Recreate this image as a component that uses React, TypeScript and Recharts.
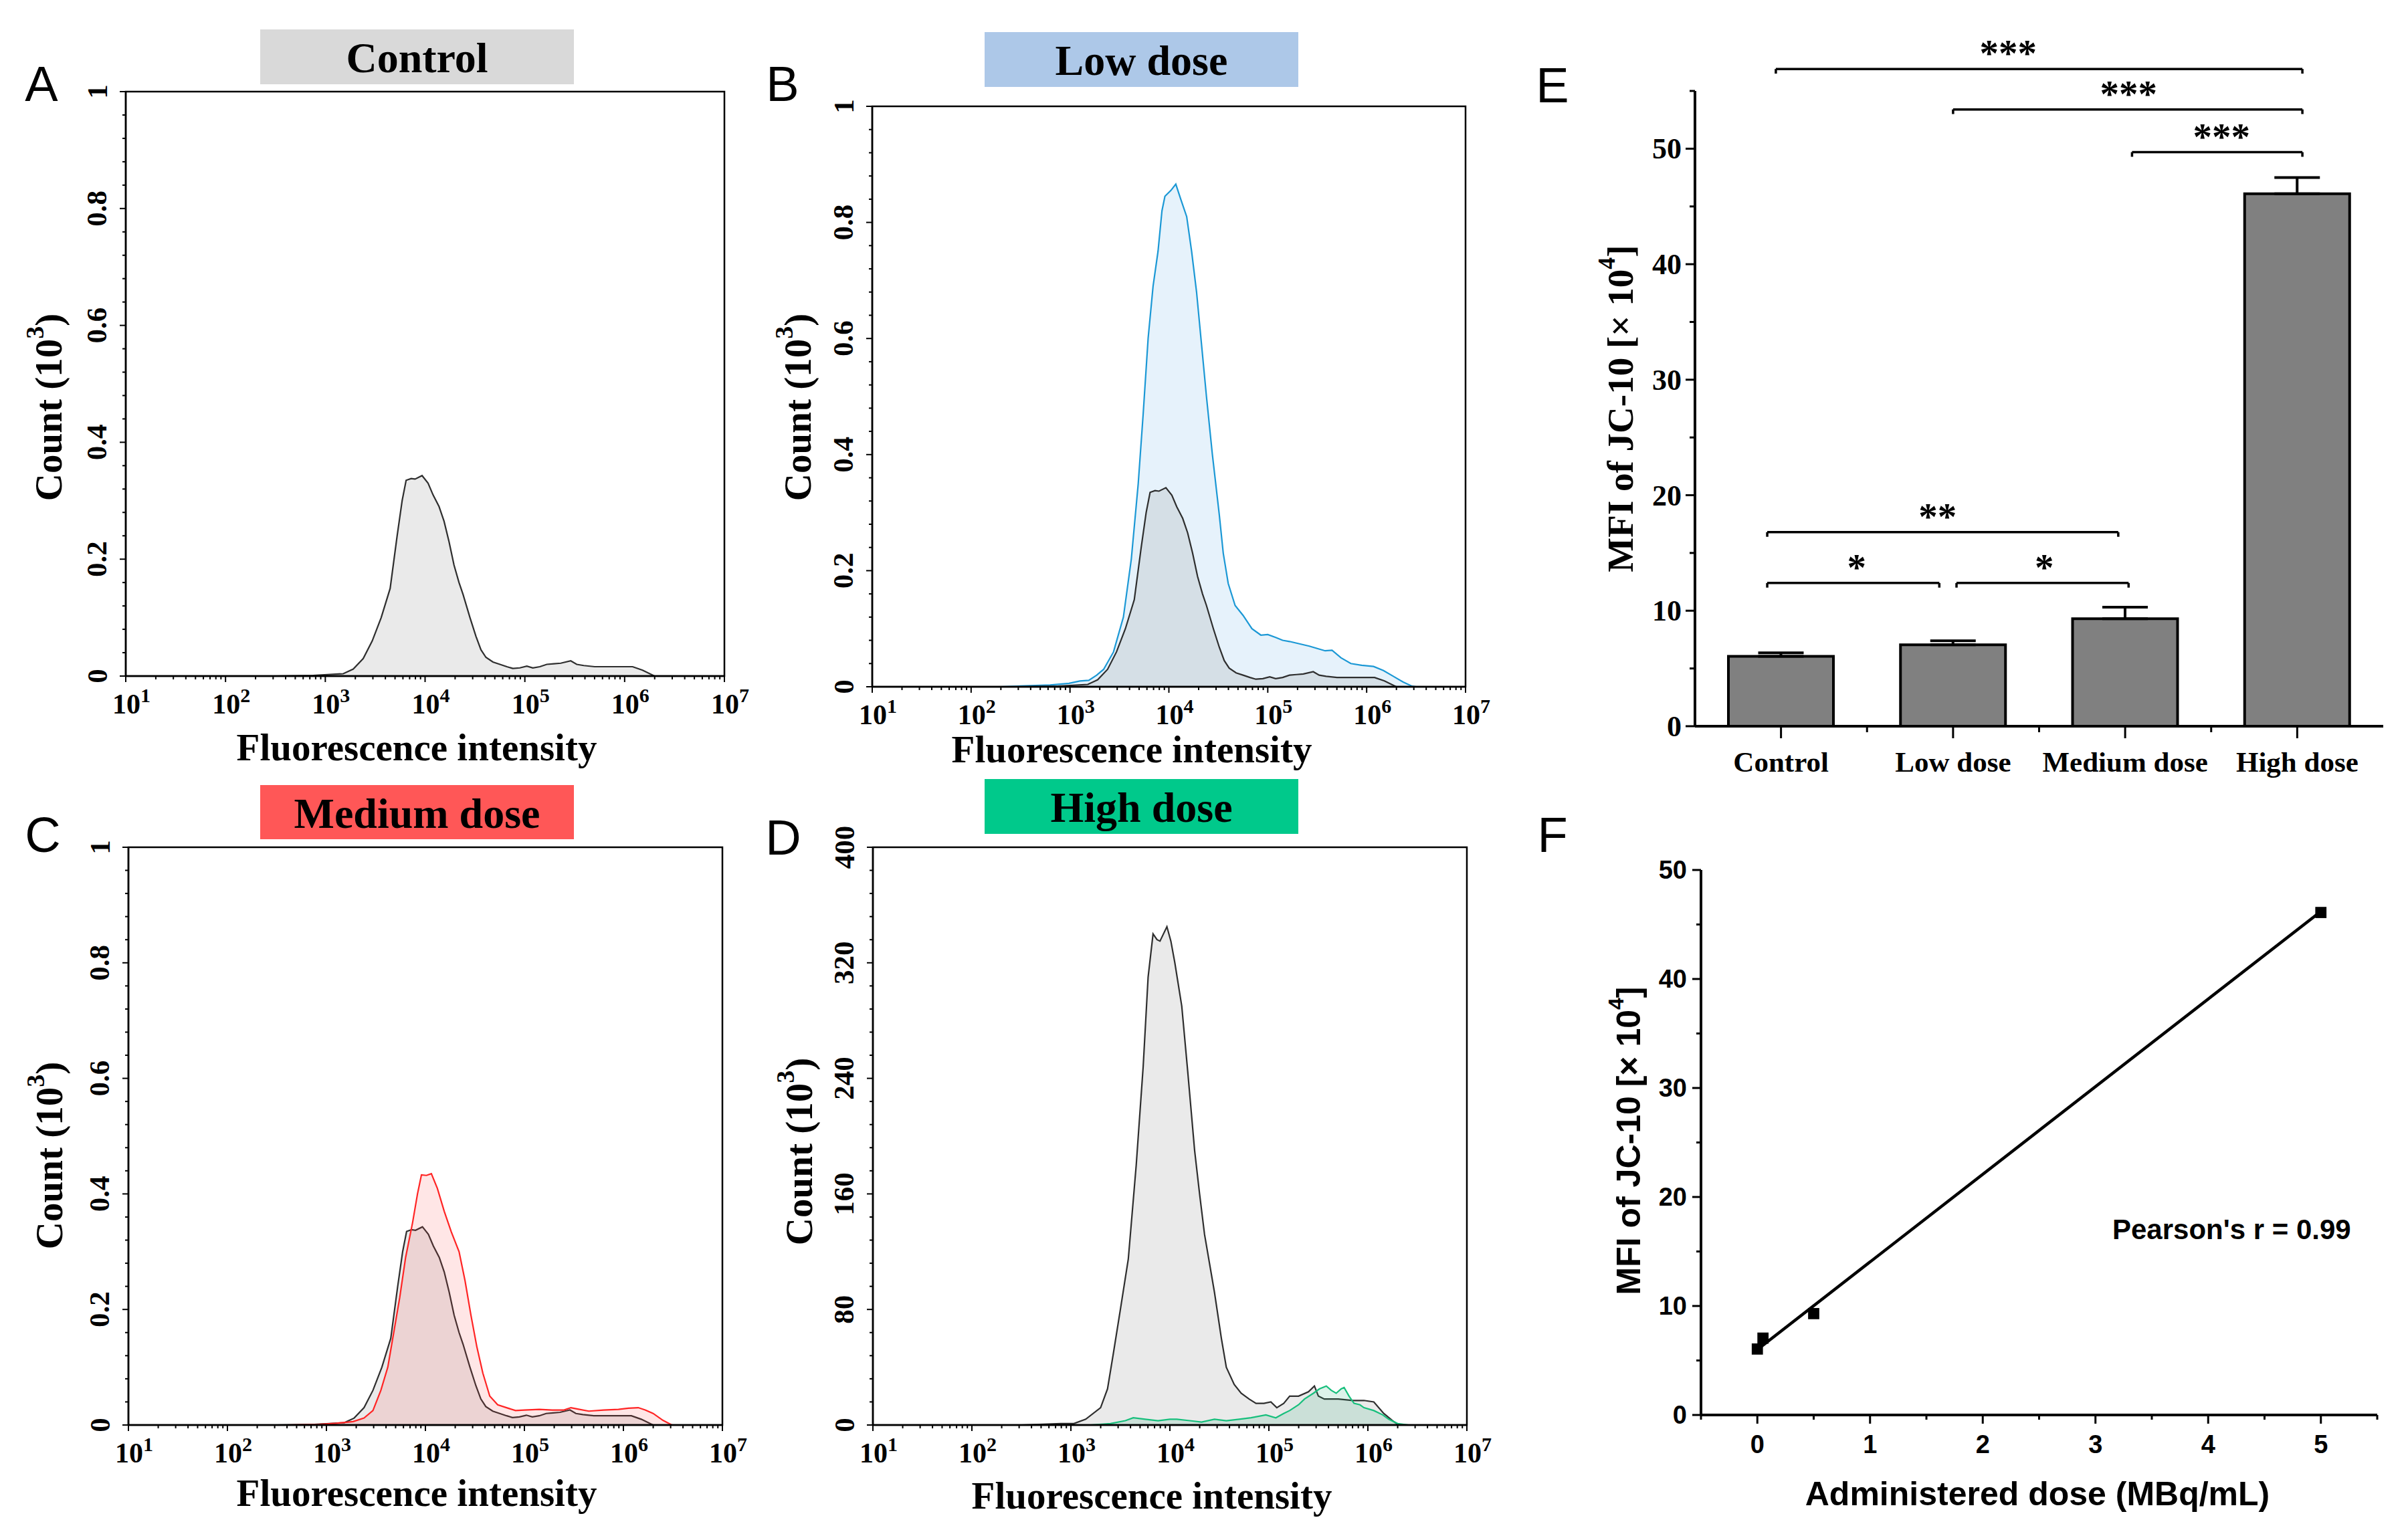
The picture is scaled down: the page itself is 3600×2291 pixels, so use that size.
import React from "react";
import {
  Area,
  AreaChart,
  Bar,
  ComposedChart,
  ErrorBar,
  ReferenceArea,
  ReferenceDot,
  ReferenceLine,
  Scatter,
  XAxis,
  YAxis,
  ZAxis,
} from "recharts";

const SERIF = '"Liberation Serif", "Times New Roman", serif';
const SANS = '"Liberation Sans", Arial, sans-serif';

type Pt = [number, number];

// histogram traces: [log10(fluorescence intensity), count]
const controlCounts: Pt[] = [
  [2.5, 0], [2.88, 0.001], [3.18, 0.004], [3.28, 0.012], [3.38, 0.03], [3.47, 0.06], [3.56, 0.1],
  [3.65, 0.15], [3.72, 0.24], [3.77, 0.3], [3.81, 0.335], [3.86, 0.338], [3.9, 0.337], [3.97, 0.343],
  [4.03, 0.33], [4.08, 0.31], [4.14, 0.29], [4.19, 0.265], [4.24, 0.23], [4.29, 0.19], [4.34, 0.16],
  [4.38, 0.14], [4.45, 0.1], [4.51, 0.068], [4.56, 0.045], [4.61, 0.032], [4.68, 0.024], [4.75, 0.02],
  [4.82, 0.016], [4.88, 0.013], [4.95, 0.014], [5.02, 0.017], [5.08, 0.014], [5.15, 0.016], [5.22, 0.02],
  [5.29, 0.021], [5.36, 0.022], [5.46, 0.026], [5.52, 0.02], [5.59, 0.018], [5.7, 0.016], [5.88, 0.016],
  [6.0, 0.016], [6.08, 0.016], [6.18, 0.01], [6.3, 0],
];

const lowDoseCounts: Pt[] = [
  [2.3, 0], [2.6, 0.002], [2.8, 0.003], [2.99, 0.006], [3.1, 0.01], [3.19, 0.011], [3.27, 0.02],
  [3.34, 0.03], [3.44, 0.06], [3.54, 0.12], [3.62, 0.22], [3.69, 0.35], [3.74, 0.47], [3.79, 0.6],
  [3.84, 0.69], [3.89, 0.75], [3.93, 0.82], [3.96, 0.845], [4.02, 0.855], [4.07, 0.866], [4.12, 0.84],
  [4.18, 0.81], [4.23, 0.75], [4.28, 0.68], [4.33, 0.59], [4.38, 0.5], [4.44, 0.4], [4.51, 0.296],
  [4.55, 0.23], [4.6, 0.178], [4.67, 0.14], [4.75, 0.123], [4.84, 0.1], [4.93, 0.089], [5.0, 0.09],
  [5.08, 0.085], [5.15, 0.08], [5.22, 0.078], [5.32, 0.074], [5.42, 0.07], [5.5, 0.066], [5.58, 0.062],
  [5.65, 0.063], [5.74, 0.05], [5.84, 0.04], [5.95, 0.037], [6.07, 0.035], [6.17, 0.028], [6.27, 0.018],
  [6.37, 0.008], [6.46, 0.001], [6.5, 0],
];

const mediumDoseCounts: Pt[] = [
  [2.6, 0], [2.92, 0.001], [3.1, 0.003], [3.27, 0.006], [3.38, 0.012], [3.47, 0.025], [3.55, 0.06],
  [3.62, 0.1], [3.68, 0.16], [3.74, 0.22], [3.8, 0.29], [3.87, 0.35], [3.92, 0.4], [3.96, 0.433],
  [4.01, 0.432], [4.06, 0.435], [4.12, 0.41], [4.19, 0.37], [4.26, 0.335], [4.34, 0.3], [4.4, 0.25],
  [4.46, 0.19], [4.52, 0.135], [4.58, 0.09], [4.65, 0.05], [4.73, 0.035], [4.82, 0.03], [4.91, 0.025],
  [5.0, 0.026], [5.15, 0.027], [5.28, 0.026], [5.4, 0.026], [5.47, 0.03], [5.53, 0.028], [5.65, 0.024],
  [5.8, 0.026], [5.95, 0.027], [6.05, 0.029], [6.15, 0.03], [6.22, 0.026], [6.3, 0.02], [6.4, 0.008],
  [6.49, 0],
];

// panel D is counted in absolute numbers (0-400)
const controlCountsD: Pt[] = [
  [2.5, 0], [2.9, 1], [3.03, 1], [3.15, 4], [3.3, 12], [3.37, 25], [3.43, 50], [3.5, 80], [3.58, 115],
  [3.66, 180], [3.73, 248], [3.78, 310], [3.83, 340], [3.87, 336], [3.9, 335], [3.97, 345], [4.01, 335],
  [4.05, 320], [4.12, 290], [4.18, 245], [4.25, 190], [4.3, 160], [4.35, 132], [4.45, 92], [4.52, 60],
  [4.57, 40], [4.65, 28], [4.72, 22], [4.8, 18], [4.87, 15], [4.95, 15], [5.02, 16], [5.08, 12],
  [5.15, 15], [5.21, 20], [5.3, 20], [5.4, 23], [5.46, 27], [5.5, 20], [5.56, 18], [5.7, 18], [5.85, 17],
  [5.96, 17], [6.06, 16], [6.16, 8], [6.25, 3], [6.31, 0],
];

const highDoseCounts: Pt[] = [
  [3.2, 0], [3.4, 1], [3.55, 3], [3.63, 5], [3.75, 4], [3.88, 3], [4.0, 4], [4.07, 4], [4.2, 3],
  [4.32, 2], [4.45, 4], [4.57, 3], [4.7, 4], [4.82, 5], [4.97, 7], [5.07, 5], [5.15, 8], [5.21, 10],
  [5.3, 14], [5.36, 18], [5.45, 22], [5.51, 25], [5.58, 27], [5.63, 24], [5.68, 22], [5.73, 25],
  [5.76, 26], [5.81, 20], [5.86, 15], [5.92, 14], [5.96, 12], [6.06, 10], [6.15, 7], [6.21, 4],
  [6.3, 1], [6.41, 0],
];

const decades = [1, 2, 3, 4, 5, 6, 7];
const decadeSteps = [2, 3, 4, 5, 6, 7, 8, 9];
const fractionLabels = ["0", "0.2", "0.4", "0.6", "0.8", "1"];
const countLabels = ["0", "80", "160", "240", "320", "400"];

// bar chart (E) and correlation (F)
const groups = ["Control", "Low dose", "Medium dose", "High dose"];
const mfiMean = [6.05, 7.05, 9.3, 46.1];
const mfiSd = [0.3, 0.35, 1.0, 1.4];
const doses = [0, 0.05, 0.5, 5];
const fitEnds: Pt[] = [[0, 6.0], [5, 46.2]];
const pearsonText = "Pearson's r = 0.99";

// significance brackets: from, to (group index), height, star position, stars
const brackets: [number, number, number, number, string][] = [
  [-0.03, 3.03, 56.9, 1.32, "***"],
  [1.0, 3.03, 53.4, 2.02, "***"],
  [2.04, 3.03, 49.7, 2.56, "***"],
  [-0.08, 1.96, 16.8, 0.91, "**"],
  [-0.08, 0.92, 12.4, 0.44, "*"],
  [1.02, 2.02, 12.4, 1.53, "*"],
];

const logTicks = [
  ...decades,
  ...decades.slice(0, 6).flatMap((d) => decadeSteps.map((k) => d + Math.log10(k))),
].sort((a, b) => a - b);

type Series = { points: Pt[]; stroke: string; fill: string; opacity: number };

const grayTrace = { stroke: "#2e2e2e", fill: "#7f7f7f", opacity: 0.16 };

const histPanels = [
  {
    letter: "A", letterPos: [62, 151], title: "Control", titleColor: "#d9d9d9", titleBox: [389, 44, 858, 126],
    plot: [188, 137, 1083, 1011], yMax: 1, yLabels: fractionLabels,
    xTitle: [623, 1137], yTitle: [72, 609],
    series: [{ points: controlCounts, ...grayTrace }] as Series[],
  },
  {
    letter: "B", letterPos: [1170, 151], title: "Low dose", titleColor: "#adc8e8", titleBox: [1472, 48, 1941, 130],
    plot: [1304, 159, 2191, 1027], yMax: 1, yLabels: fractionLabels,
    xTitle: [1692, 1140], yTitle: [1192, 609],
    series: [
      { points: lowDoseCounts, stroke: "#1b98d5", fill: "#56a8e6", opacity: 0.15 },
      { points: controlCounts, ...grayTrace },
    ] as Series[],
  },
  {
    letter: "C", letterPos: [64, 1274], title: "Medium dose", titleColor: "#ff5757", titleBox: [389, 1174, 858, 1255],
    plot: [192, 1267, 1080, 2131], yMax: 1, yLabels: fractionLabels,
    xTitle: [623, 2252], yTitle: [73, 1728],
    series: [
      { points: controlCounts, ...grayTrace },
      { points: mediumDoseCounts, stroke: "#ff2424", fill: "#ff4040", opacity: 0.13 },
    ] as Series[],
  },
  {
    letter: "D", letterPos: [1171, 1278], title: "High dose", titleColor: "#00c98b", titleBox: [1472, 1165, 1941, 1247],
    plot: [1305, 1267, 2193, 2131], yMax: 400, yLabels: countLabels,
    xTitle: [1722, 2256], yTitle: [1194, 1722],
    series: [
      { points: controlCountsD, ...grayTrace },
      { points: highDoseCounts, stroke: "#17bf7c", fill: "#1aa872", opacity: 0.15 },
    ] as Series[],
  },
];

function LogTick(props: any) {
  const { x, y, payload } = props;
  const v = payload.value as number;
  const major = Math.abs(v - Math.round(v)) < 1e-6;
  return (
    <g>
      <line x1={x} x2={x} y1={y} y2={y + (major ? 9 : 5)} stroke="#000" strokeWidth={2} />
      {major && (
        <text x={x - 20} y={y + 56} fontFamily={SERIF} fontWeight="bold" fontSize={42} fill="#000">
          10
          <tspan dy={-17} fontSize={30}>
            {Math.round(v)}
          </tspan>
        </text>
      )}
    </g>
  );
}

function makeCountTick(labels: string[]) {
  return (props: any) => {
    const { x, y, index } = props;
    const major = index % 5 === 0;
    const cx = x - 43;
    return (
      <g>
        <line x1={x} x2={x - (major ? 9 : 5)} y1={y} y2={y} stroke="#000" strokeWidth={2} />
        {major && (
          <text
            x={cx}
            y={y}
            transform={`rotate(-90 ${cx} ${y})`}
            textAnchor="middle"
            dominantBaseline="central"
            fontFamily={SERIF}
            fontWeight="bold"
            fontSize={43}
            fill="#000"
          >
            {labels[index / 5]}
          </text>
        )}
      </g>
    );
  };
}

function HistPanel({ panel }: { panel: (typeof histPanels)[number] }) {
  const [L, T, R, B] = panel.plot;
  const left = L - 188;
  const top = T - 50;
  const width = R - left + 60;
  const height = B - top + 150;
  const yTicks = Array.from({ length: 26 }, (_, i) => (i * panel.yMax) / 25);
  return (
    <div style={{ position: "absolute", left, top }}>
      <AreaChart width={width} height={height} margin={{ top: 50, right: 60, bottom: 10, left: 0 }}>
        <XAxis
          type="number"
          dataKey="x"
          domain={[1, 7]}
          allowDataOverflow
          ticks={logTicks}
          interval={0}
          tickSize={0}
          tickMargin={0}
          tickLine={false}
          axisLine={{ stroke: "#000", strokeWidth: 2.5 }}
          height={140}
          tick={LogTick}
        />
        <YAxis
          type="number"
          domain={[0, panel.yMax]}
          allowDataOverflow
          ticks={yTicks}
          interval={0}
          tickSize={0}
          tickMargin={0}
          tickLine={false}
          axisLine={{ stroke: "#000", strokeWidth: 2.5 }}
          width={188}
          tick={makeCountTick(panel.yLabels)}
        />
        {panel.series.map((s, i) => (
          <Area
            key={i}
            data={s.points.map(([x, y]) => ({ x, y }))}
            dataKey="y"
            type="linear"
            stroke={s.stroke}
            strokeWidth={2.2}
            fill={s.fill}
            fillOpacity={s.opacity}
            dot={false}
            activeDot={false}
            isAnimationActive={false}
          />
        ))}
        <ReferenceArea
          x1={1}
          x2={7}
          y1={0}
          y2={panel.yMax}
          fill="none"
          stroke="#000"
          strokeWidth={2.5}
          ifOverflow="visible"
        />
      </AreaChart>
    </div>
  );
}

function BarYTick(props: any) {
  const { x, y, payload } = props;
  const major = payload.value % 10 === 0;
  return (
    <g>
      <line x1={x} x2={x - (major ? 14 : 8)} y1={y} y2={y} stroke="#000" strokeWidth={3} />
      {major && (
        <text x={x - 20} y={y + 15} textAnchor="end" fontFamily={SERIF} fontWeight="bold" fontSize={44} fill="#000">
          {payload.value}
        </text>
      )}
    </g>
  );
}

function BarXTick(props: any) {
  const { x, y, payload } = props;
  const v = payload.value as number;
  const major = Number.isInteger(v);
  return (
    <g>
      <line x1={x} x2={x} y1={y} y2={y + (major ? 18 : 9)} stroke="#000" strokeWidth={3} />
      {major && (
        <text x={x} y={y + 68} textAnchor="middle" fontFamily={SERIF} fontWeight="bold" fontSize={43} fill="#000">
          {groups[v]}
        </text>
      )}
    </g>
  );
}

function MfiBars() {
  const rows = groups.map((g, i) => ({ pos: i, group: g, mean: mfiMean[i], sd: [0, mfiSd[i]] }));
  const yTicks = Array.from({ length: 12 }, (_, i) => i * 5);
  const xTicks = [0, 0.5, 1, 1.5, 2, 2.5, 3];
  return (
    <div style={{ position: "absolute", left: 2334, top: 0 }}>
      <ComposedChart width={1249} height={1186} data={rows} margin={{ top: 136, right: 20, bottom: 0, left: 0 }}>
        <XAxis
          type="number"
          dataKey="pos"
          domain={[-0.5, 3.5]}
          allowDataOverflow
          ticks={xTicks}
          interval={0}
          height={100}
          tickSize={0}
          tickMargin={0}
          tickLine={false}
          axisLine={{ stroke: "#000", strokeWidth: 4 }}
          tick={BarXTick}
        />
        <YAxis
          type="number"
          domain={[0, 55]}
          allowDataOverflow
          ticks={yTicks}
          interval={0}
          tickSize={0}
          tickMargin={0}
          tickLine={false}
          axisLine={{ stroke: "#000", strokeWidth: 4 }}
          width={200}
          tick={BarYTick}
        />
        <Bar dataKey="mean" barSize={157} fill="#808080" stroke="#000" strokeWidth={4} isAnimationActive={false}>
          <ErrorBar dataKey="sd" direction="y" width={34} stroke="#000" strokeWidth={4} isAnimationActive={false} />
        </Bar>
        {brackets.map(([a, b, h], i) => (
          <ReferenceLine
            key={`h${i}`}
            segment={[{ x: a, y: h }, { x: b, y: h }]}
            stroke="#000"
            strokeWidth={3.5}
            ifOverflow="visible"
          />
        ))}
        {brackets.flatMap(([a, b, h], i) =>
          [a, b].map((e, j) => (
            <ReferenceLine
              key={`t${i}-${j}`}
              segment={[{ x: e, y: h }, { x: e, y: h - 0.4 }]}
              stroke="#000"
              strokeWidth={3.5}
              ifOverflow="visible"
            />
          ))
        )}
        {brackets.map(([, , h, s, stars], i) => (
          <ReferenceDot
            key={`s${i}`}
            x={s}
            y={h}
            r={0}
            ifOverflow="visible"
            shape={(p: any) => (
              <text x={p.cx} y={p.cy - 4} textAnchor="middle" fontFamily={SERIF} fontWeight="bold" fontSize={57} fill="#000">
                {stars}
              </text>
            )}
          />
        ))}
      </ComposedChart>
    </div>
  );
}

function CorrYTick(props: any) {
  const { x, y, payload } = props;
  const major = payload.value % 10 === 0;
  return (
    <g>
      <line x1={x} x2={x - (major ? 13 : 7)} y1={y} y2={y} stroke="#000" strokeWidth={3} />
      {major && (
        <text x={x - 21} y={y + 13} textAnchor="end" fontFamily={SANS} fontWeight="bold" fontSize={38} fill="#000">
          {payload.value}
        </text>
      )}
    </g>
  );
}

function CorrXTick(props: any) {
  const { x, y, payload } = props;
  const major = Number.isInteger(payload.value);
  return (
    <g>
      <line x1={x} x2={x} y1={y} y2={y + (major ? 13 : 7)} stroke="#000" strokeWidth={3} />
      {major && (
        <text x={x} y={y + 57} textAnchor="middle" fontFamily={SANS} fontWeight="bold" fontSize={38} fill="#000">
          {payload.value}
        </text>
      )}
    </g>
  );
}

function Correlation() {
  const points = doses.map((d, i) => ({ dose: d, mfi: mfiMean[i] }));
  const xTicks = Array.from({ length: 13 }, (_, i) => -0.5 + i * 0.5);
  const yTicks = Array.from({ length: 11 }, (_, i) => i * 5);
  return (
    <div style={{ position: "absolute", left: 2343, top: 1251 }}>
      <ComposedChart width={1241} height={1015} margin={{ top: 50, right: 30, bottom: 0, left: 0 }}>
        <XAxis
          type="number"
          dataKey="dose"
          domain={[-0.5, 5.5]}
          allowDataOverflow
          ticks={xTicks}
          interval={0}
          tickSize={0}
          tickMargin={0}
          tickLine={false}
          axisLine={{ stroke: "#000", strokeWidth: 4 }}
          height={150}
          tick={CorrXTick}
        />
        <YAxis
          type="number"
          dataKey="mfi"
          domain={[0, 50]}
          allowDataOverflow
          ticks={yTicks}
          interval={0}
          tickSize={0}
          tickMargin={0}
          tickLine={false}
          axisLine={{ stroke: "#000", strokeWidth: 4 }}
          width={200}
          tick={CorrYTick}
        />
        <ZAxis range={[280, 280]} />
        <ReferenceLine
          segment={fitEnds.map(([x, y]) => ({ x, y }))}
          stroke="#000"
          strokeWidth={4.5}
          ifOverflow="visible"
        />
        <Scatter data={points} dataKey="mfi" fill="#000" shape="square" isAnimationActive={false} />
      </ComposedChart>
    </div>
  );
}

function Overlay() {
  const bold = { fontWeight: "bold" as const, fill: "#000" };
  return (
    <svg width={3600} height={2291} style={{ position: "absolute", left: 0, top: 0, pointerEvents: "none" }}>
      {histPanels.map((p) => {
        const [bx1, by1, bx2, by2] = p.titleBox;
        const cx = (bx1 + bx2) / 2;
        const cy = (by1 + by2) / 2;
        return (
          <g key={p.letter}>
            <rect x={bx1} y={by1} width={bx2 - bx1} height={by2 - by1} fill={p.titleColor} />
            <text x={cx} y={cy + 23} textAnchor="middle" fontFamily={SERIF} fontSize={64} {...bold}>
              {p.title}
            </text>
            <text x={p.letterPos[0]} y={p.letterPos[1]} textAnchor="middle" fontFamily={SANS} fontSize={74}>
              {p.letter}
            </text>
            <text x={p.xTitle[0]} y={p.xTitle[1]} textAnchor="middle" fontFamily={SERIF} fontSize={57} {...bold}>
              Fluorescence intensity
            </text>
            <text
              x={p.yTitle[0]}
              y={p.yTitle[1]}
              transform={`rotate(-90 ${p.yTitle[0]} ${p.yTitle[1]})`}
              textAnchor="middle"
              dominantBaseline="central"
              fontFamily={SERIF}
              fontSize={57}
              {...bold}
            >
              Count (10
              <tspan dy={-20} fontSize={38}>
                3
              </tspan>
              <tspan dy={20}>)</tspan>
            </text>
          </g>
        );
      })}
      <text x={2321} y={153} textAnchor="middle" fontFamily={SANS} fontSize={74}>
        E
      </text>
      <text x={2321} y={1274} textAnchor="middle" fontFamily={SANS} fontSize={74}>
        F
      </text>
      <text
        x={2422}
        y={611}
        transform="rotate(-90 2422 611)"
        textAnchor="middle"
        dominantBaseline="central"
        fontFamily={SERIF}
        fontSize={55}
        {...bold}
      >
        MFI of JC-10 [× 10
        <tspan dy={-20} fontSize={36}>
          4
        </tspan>
        <tspan dy={20}>]</tspan>
      </text>
      <text
        x={2435}
        y={1706}
        transform="rotate(-90 2435 1706)"
        textAnchor="middle"
        dominantBaseline="central"
        fontFamily={SANS}
        fontSize={50}
        {...bold}
      >
        MFI of JC-10 [× 10
        <tspan dy={-19} fontSize={32}>
          4
        </tspan>
        <tspan dy={19}>]</tspan>
      </text>
      <text x={3046} y={2251} textAnchor="middle" fontFamily={SANS} fontSize={50} {...bold}>
        Administered dose (MBq/mL)
      </text>
      <text x={3158} y={1853} fontFamily={SANS} fontSize={42} {...bold}>
        {pearsonText}
      </text>
    </svg>
  );
}

export default function App() {
  return (
    <div style={{ position: "absolute", left: 0, top: 0, width: 3600, height: 2291, background: "#fff", overflow: "hidden" }}>
      {histPanels.map((p) => (
        <HistPanel key={p.letter} panel={p} />
      ))}
      <MfiBars />
      <Correlation />
      <Overlay />
    </div>
  );
}
